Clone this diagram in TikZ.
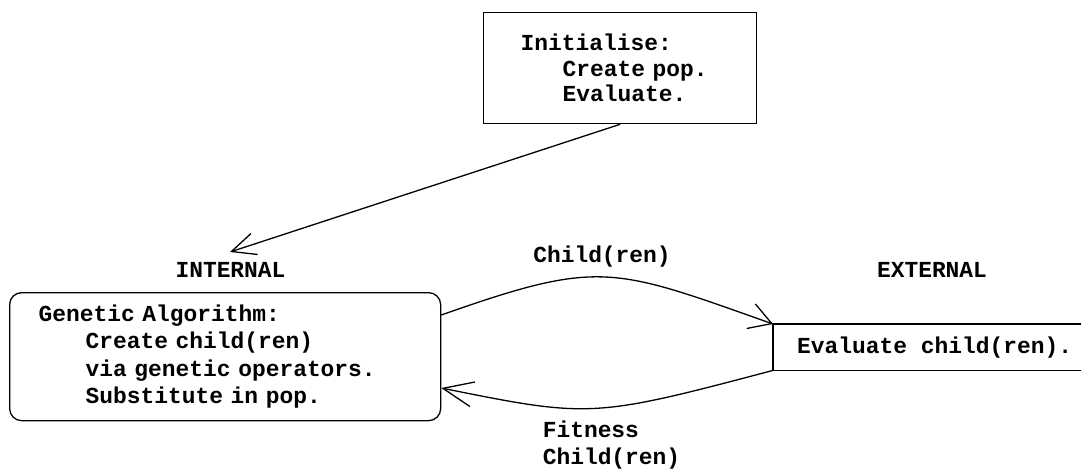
\documentclass[tikz,border=0pt]{standalone}
\usepackage{fontspec}
\setmainfont{Liberation Mono}
\usetikzlibrary{arrows.meta}
\begin{document}
\begin{tikzpicture}[x=1pt,y=-1pt,
  txt/.style={font=\fontsize{22.9pt}{#1}\selectfont\bfseries},
  txt/.default={27pt},
  boxed/.style={draw, line width=1.3pt, align=left, inner ysep=0pt, anchor=north west},
  flow/.style={line width=1.3pt},
  tag/.style={txt, inner sep=0pt}
]
\useasboundingbox (0,0) rectangle (1081,474);

% initialisation box
\node[boxed, txt={25.5pt}, inner xsep=37pt, text width=199pt, minimum height=111pt]
  (init) at (483,12)
  {Initialise:\\\hspace*{42pt}Create pop.\\\hspace*{42pt}Evaluate.};

% genetic algorithm box
\node[boxed, txt={27.3pt}, rounded corners=12pt, inner xsep=29pt, text width=373pt, minimum height=128pt]
  (ga) at (9,292)
  {Genetic Algorithm:\\\hspace*{47pt}Create child(ren)\\\hspace*{47pt}via genetic operators.\\\hspace*{47pt}Substitute in pop.};

% external evaluation box (open to the right)
\node[txt, anchor=north west, inner xsep=24pt, inner ysep=0pt, minimum height=46pt]
  (ev) at (773,324) {Evaluate child(ren).};
\coordinate (rt) at (1081,0);
\draw[flow] (ev.north west -| rt) -- (ev.north west) -- (ev.south west) -- (ev.south west -| rt);

% side headings and edge labels
\node[tag] (internal) at (230.5,270) {INTERNAL};
\node[tag] (external) at (932,270) {EXTERNAL};
\node[tag] (sendlbl) at (602,257) {Child(ren)};
\node[tag, align=left, font=\fontsize{22.9pt}{27pt}\selectfont\bfseries] (backlbl) at (611.5,445.5) {Fitness\\Child(ren)};

% connectors
\coordinate (gaentry) at (230,252);
\draw[flow, -{Straight Barb[length=24pt,width=22pt]}] (init.south) -- (gaentry);
\draw[flow, -{Straight Barb[length=22pt,width=26pt]}]
  (ga.east |- 0,315) .. controls (600,259) and (612,267) .. (ev.north west);
\draw[flow, -{Straight Barb[length=30pt,width=25pt]}]
  (ev.south west) .. controls (593,418) and (590,418) .. (ga.east |- 0,388);
\end{tikzpicture}
\end{document}
